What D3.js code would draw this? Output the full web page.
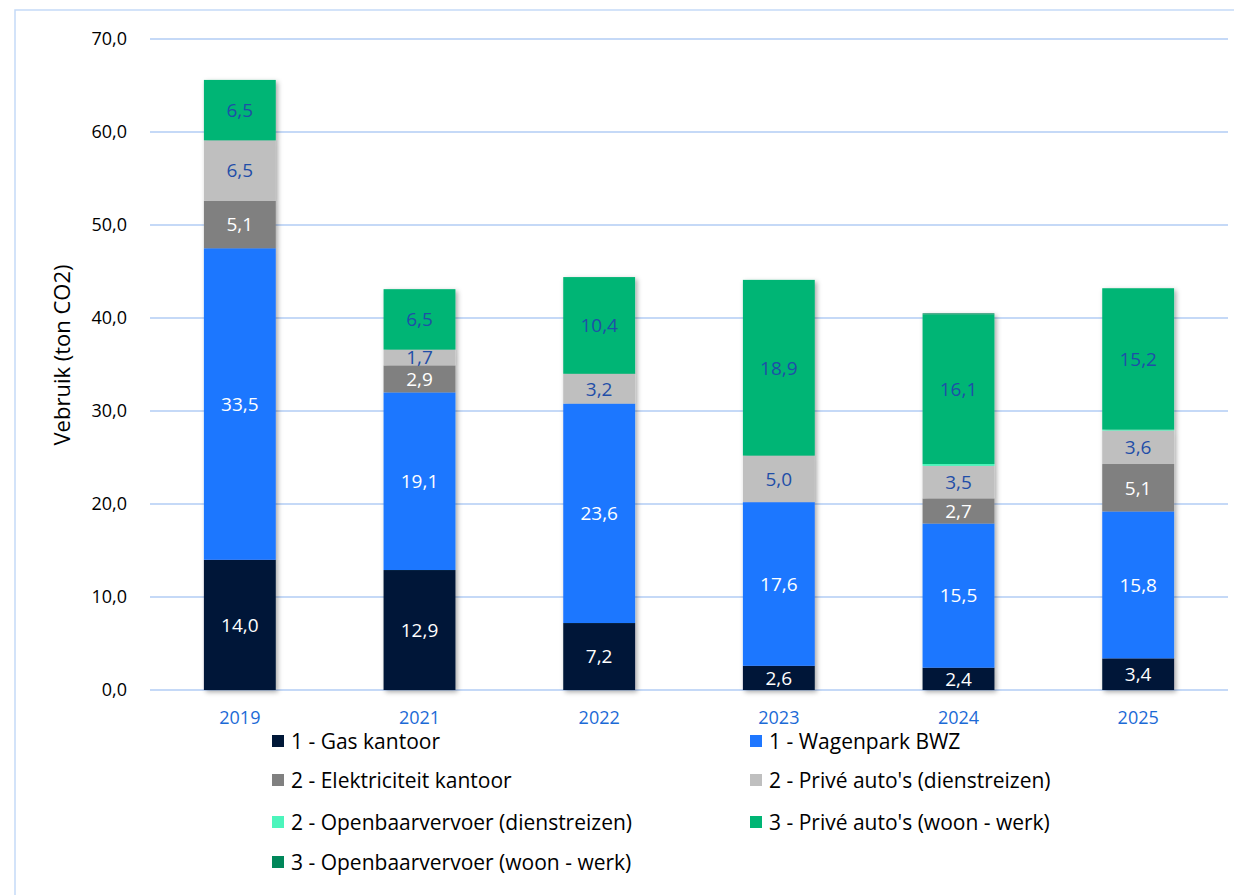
<!DOCTYPE html>
<html>
<head>
<meta charset="utf-8">
<script src="https://cdn.jsdelivr.net/npm/d3@7"></script>
<style>
  body { margin: 0; background: #fff; }
  svg { font-family: "Open Sans", Lato, sans-serif; }
</style>
</head>
<body>
<svg id="chart" width="1234" height="895"></svg>
<script>
// categories (years)
const years = ["2019", "2021", "2022", "2023", "2024", "2025"];

// series values, ton CO2, one per year
const gasKantoor      = [14.0, 12.9, 7.2, 2.6, 2.4, 3.4];
const wagenparkBWZ    = [33.5, 19.1, 23.6, 17.6, 15.5, 15.8];
const elektriciteit   = [5.1, 2.9, 0, 0, 2.7, 5.1];
const priveDienst     = [6.5, 1.7, 3.2, 5.0, 3.5, 3.6];
const ovDienst        = [0, 0, 0, 0, 0.2, 0.1];
const priveWoonWerk   = [6.5, 6.5, 10.4, 18.9, 16.1, 15.2];
const ovWoonWerk      = [0, 0, 0, 0, 0.1, 0];

const seriesNames = [
  "1 - Gas kantoor",
  "1 - Wagenpark BWZ",
  "2 - Elektriciteit kantoor",
  "2 - Privé auto's (dienstreizen)",
  "2 - Openbaarvervoer (dienstreizen)",
  "3 - Privé auto's (woon - werk)",
  "3 - Openbaarvervoer (woon - werk)"
];
const seriesValues = [gasKantoor, wagenparkBWZ, elektriciteit, priveDienst, ovDienst, priveWoonWerk, ovWoonWerk];
const yTicks = [0, 10, 20, 30, 40, 50, 60, 70];

const colors = ["#001838", "#1F77FF", "#808080", "#BFBFBF", "#4CF5BC", "#00B574", "#00875A"];
const labelColors = ["#ffffff", "#ffffff", "#ffffff", "#1F4EA8", "#1F4EA8", "#1F4EA8", "#1F4EA8"];

const svg = d3.select("#chart");
const fmt = v => v.toFixed(1).replace(".", ",");

// frame around the chart
svg.append("rect")
  .attr("x", 15).attr("y", 10)
  .attr("width", 1240).attr("height", 900)
  .attr("fill", "none")
  .attr("stroke", "#C5DAF8")
  .attr("stroke-width", 1.5);

// drop shadow for bars
const defs = svg.append("defs");
defs.append("filter").attr("id", "shadow")
  .attr("x", "-20%").attr("y", "-5%").attr("width", "140%").attr("height", "115%")
  .append("feDropShadow")
  .attr("dx", 2).attr("dy", 2).attr("stdDeviation", 2.5)
  .attr("flood-color", "#000").attr("flood-opacity", 0.35);

const plot = { left: 150, right: 1228, top: 39, bottom: 690 };

const x = d3.scaleBand()
  .domain(years)
  .range([plot.left, plot.right])
  .paddingInner(0.6)
  .paddingOuter(0.3);

const y = d3.scaleLinear()
  .domain([0, 70])
  .range([plot.bottom, plot.top]);

// gridlines
svg.append("g")
  .selectAll("line")
  .data(yTicks)
  .join("line")
  .attr("x1", plot.left).attr("x2", plot.right)
  .attr("y1", d => y(d)).attr("y2", d => y(d))
  .attr("stroke", "#C5D9F7")
  .attr("stroke-width", 2);

// y axis
const yAxis = d3.axisLeft(y).tickValues(yTicks).tickFormat(fmt).tickSize(0).tickPadding(23);
const yg = svg.append("g")
  .attr("transform", `translate(${plot.left},0)`)
  .call(yAxis);
yg.select(".domain").remove();
yg.selectAll("text")
  .attr("font-family", "'Open Sans', sans-serif")
  .attr("font-size", 18)
  .attr("fill", "#000");

// x axis labels
const xAxis = d3.axisBottom(x).tickSize(0).tickPadding(21);
const xg = svg.append("g")
  .attr("transform", `translate(0,${plot.bottom})`)
  .call(xAxis);
xg.select(".domain").remove();
xg.selectAll("text")
  .attr("font-family", "'Open Sans', sans-serif")
  .attr("font-size", 18)
  .attr("fill", "#1C6AD6");

// y axis title
svg.append("text")
  .attr("transform", "translate(70,355) rotate(-90)")
  .attr("text-anchor", "middle")
  .attr("font-size", 22)
  .attr("fill", "#000")
  .text("Vebruik (ton CO2)");

// stack the series
const table = years.map((yr, i) => {
  const row = { year: yr };
  seriesNames.forEach((n, s) => { row[n] = seriesValues[s][i]; });
  return row;
});
const stacked = d3.stack().keys(seriesNames)(table);

const bars = svg.append("g").attr("filter", "url(#shadow)");
bars.selectAll("g")
  .data(stacked)
  .join("g")
  .attr("fill", (d, i) => colors[i])
  .selectAll("rect")
  .data(d => d)
  .join("rect")
  .attr("x", d => x(d.data.year))
  .attr("width", x.bandwidth())
  .attr("y", d => y(d[1]))
  .attr("height", d => y(d[0]) - y(d[1]));

// data labels
const labels = svg.append("g");
stacked.forEach((layer, s) => {
  labels.selectAll(null)
    .data(layer.filter(d => d[1] - d[0] >= 1))
    .join("text")
    .attr("x", d => x(d.data.year) + x.bandwidth() / 2)
    .attr("y", d => (y(d[0]) + y(d[1])) / 2)
    .attr("dy", "0.36em")
    .attr("text-anchor", "middle")
    .attr("font-size", 19)
    .attr("fill", labelColors[s])
    .text(d => fmt(d[1] - d[0]));
});

// legend
const legendPos = [
  [272, 741], [750, 741],
  [272, 780], [750, 780],
  [272, 822], [750, 822],
  [272, 862]
];
const legend = svg.append("g");
seriesNames.forEach((n, i) => {
  const [lx, ly] = legendPos[i];
  legend.append("rect")
    .attr("x", lx).attr("y", ly - 6)
    .attr("width", 12).attr("height", 12)
    .attr("fill", colors[i]);
  legend.append("text")
    .attr("x", lx + 19).attr("y", ly)
    .attr("dy", "0.36em")
    .attr("font-size", 21)
    .attr("fill", "#000")
    .text(n);
});
</script>
</body>
</html>
